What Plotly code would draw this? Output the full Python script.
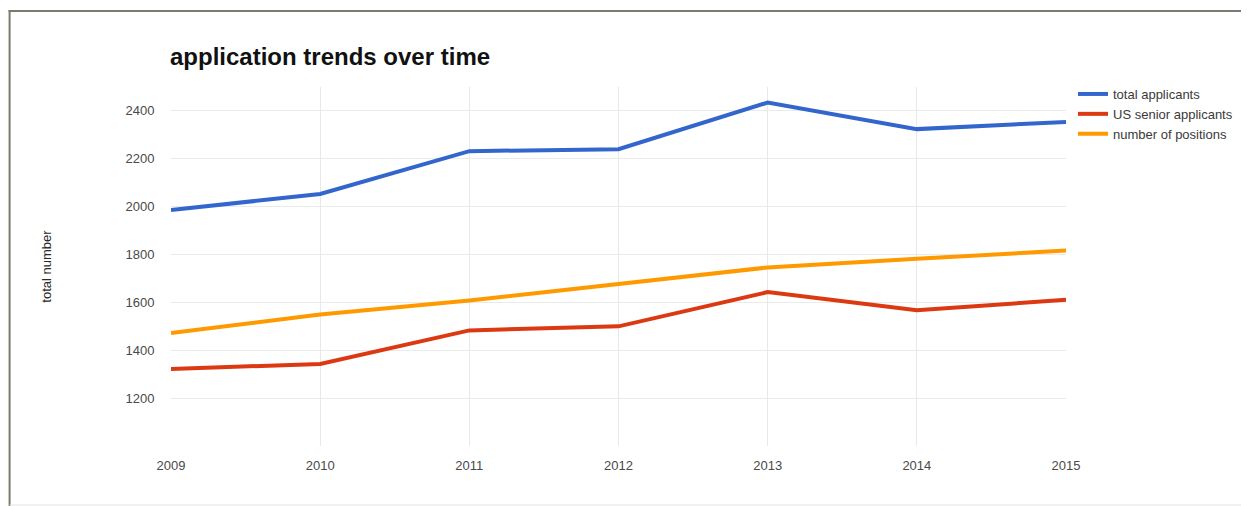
import plotly.graph_objects as go

years = [2009, 2010, 2011, 2012, 2013, 2014, 2015]
total_applicants = [1986, 2053, 2232, 2240, 2435, 2324, 2354]
us_senior_applicants = [1322, 1343, 1483, 1500, 1643, 1567, 1611]
number_of_positions = [1472, 1549, 1608, 1678, 1746, 1782, 1817]
y_ticks = [1200, 1400, 1600, 1800, 2000, 2200, 2400]

series = [
    ("total applicants", total_applicants, "#3366cc"),
    ("US senior applicants", us_senior_applicants, "#dc3912"),
    ("number of positions", number_of_positions, "#ff9900"),
]

# page body adds an 8px offset; work in reference-pixel coordinates
OFF = 8
W, H = 1249 - OFF, 506 - OFF
plot_x0, plot_x1 = 170.5, 1066   # reference px
plot_y0, plot_y1 = 87, 446       # reference px (top, bottom)
L = plot_x0 - OFF
T = plot_y0 - OFF
R = W - (plot_x1 - OFF)
B = H - (plot_y1 - OFF)


def px_x(x):
    return (x - plot_x0) / (plot_x1 - plot_x0)


def px_y(y):
    return (plot_y1 - y) / (plot_y1 - plot_y0)


fig = go.Figure()
for name, vals, color in series:
    fig.add_trace(go.Scatter(x=years, y=vals, name=name, mode="lines",
                             line=dict(color=color, width=4)))

font_family = "Liberation Sans, Arial, sans-serif"

fig.update_layout(
    width=W, height=H,
    margin=dict(l=L, r=R, t=T, b=B, autoexpand=False),
    paper_bgcolor="white", plot_bgcolor="white",
    font=dict(family=font_family, color="#444444", size=12),
    title=dict(text="<b>application trends over time</b>",
               font=dict(family=font_family, size=24, color="#111111"),
               x=(170 - OFF) / W, xanchor="left", xref="container",
               y=1 - (57 - OFF) / H, yanchor="middle", yref="container"),
    legend=dict(x=px_x(1073), xanchor="left", y=px_y(79), yanchor="top",
                font=dict(size=13, color="#3a3a3a"), bgcolor="rgba(0,0,0,0)",
                tracegroupgap=0, itemwidth=30),
    xaxis=dict(range=[2009, 2015], tickvals=years, ticktext=[str(y) for y in years],
               showgrid=True, gridcolor="#e8e8e8", gridwidth=1,
               zeroline=False, showline=False,
               ticks="outside", ticklen=7, tickcolor="rgba(0,0,0,0)",
               tickfont=dict(size=13, color="#4a4a4a")),
    yaxis=dict(range=[1000, 2500], tickvals=y_ticks, ticktext=[str(v) for v in y_ticks],
               showgrid=True, gridcolor="#eaeaea", gridwidth=1,
               zeroline=False, showline=False,
               ticks="outside", ticklen=13, tickcolor="rgba(0,0,0,0)",
               tickfont=dict(size=13, color="#4a4a4a"),
               title=dict(text="total number", standoff=70,
                          font=dict(size=13, color="#2a2a2a"))),
    showlegend=True,
)

# outer frame of the screenshot: dark top and left edges, faint bottom edge
frame = "#7a7b6e"
fig.add_shape(type="line", xref="paper", yref="paper",
              x0=px_x(8), x1=px_x(1260), y0=px_y(11), y1=px_y(11),
              line=dict(color=frame, width=2), layer="below")
fig.add_shape(type="line", xref="paper", yref="paper",
              x0=px_x(9), x1=px_x(9), y0=px_y(10), y1=px_y(510),
              line=dict(color=frame, width=2), layer="below")
fig.add_shape(type="line", xref="paper", yref="paper",
              x0=px_x(9), x1=px_x(1260), y0=px_y(505), y1=px_y(505),
              line=dict(color="#e4e4e4", width=1), layer="below")

fig.write_html("out.html")
